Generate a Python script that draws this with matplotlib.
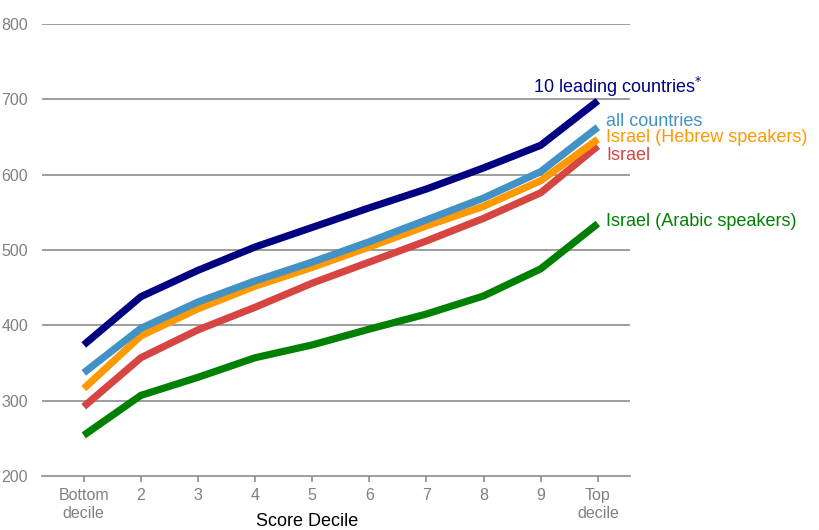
import matplotlib
matplotlib.use("Agg")
import matplotlib.pyplot as plt
from matplotlib import font_manager

# Dados
deciles = [1, 2, 3, 4, 5, 6, 7, 8, 9, 10]
tick_labels = ["Bottom\ndecile", "2", "3", "4", "5", "6", "7", "8", "9", "Top\ndecile"]

leading_10 = [374, 438, 473, 504, 530, 556, 581, 609, 639, 698]
all_countries = [337, 396, 431, 459, 484, 511, 540, 569, 604, 663]
israel_hebrew = [316, 386, 422, 452, 477, 504, 532, 558, 592, 647]
israel = [292, 357, 394, 424, 456, 484, 512, 542, 576, 638]
israel_arabic = [254, 307, 331, 357, 374, 395, 415, 439, 475, 535]

series = [
    ("10 leading countries", leading_10, "#000080"),
    ("all countries", all_countries, "#4292c6"),
    ("Israel (Hebrew speakers)", israel_hebrew, "#ff9900"),
    ("Israel", israel, "#d64541"),
    ("Israel (Arabic speakers)", israel_arabic, "#008000"),
]

names = {f.name for f in font_manager.fontManager.ttflist}
tick_font = "Liberation Sans Narrow" if "Liberation Sans Narrow" in names else "Liberation Sans"
plt.rcParams["font.family"] = ["Liberation Sans", "DejaVu Sans"]

fig = plt.figure(figsize=(8.19, 5.30), dpi=100)
ax = fig.add_axes([0.051, 0.1019, 0.718, 0.8528])

for y in [300, 400, 500, 600, 700, 800]:
    ax.axhline(y, color="#8c8c8c", linewidth=1.2, zorder=1)

# ordem de desenho: verde embaixo, azul escuro em cima
for name, vals, color in reversed(series):
    ax.plot(deciles, vals, color=color, linewidth=5.2, solid_capstyle="butt",
            solid_joinstyle="miter", zorder=3)

ax.set_ylim(200, 800)
ax.set_xlim(0.265, 10.56)
ax.set_yticks([200, 300, 400, 500, 600, 700, 800])
ax.set_xticks(deciles)
ax.set_xticklabels(tick_labels, family=[tick_font, "DejaVu Sans"], fontsize=11.5,
                   color="#808080", linespacing=1.25)
for lab in ax.get_yticklabels():
    lab.set_family([tick_font, "DejaVu Sans"])
ax.tick_params(axis="y", length=0, pad=10, labelsize=11.5, labelcolor="#808080")
ax.tick_params(axis="x", length=4, width=1.2, color="#8c8c8c", pad=5)

for s in ["top", "right", "left"]:
    ax.spines[s].set_visible(False)
ax.spines["bottom"].set_color("#8c8c8c")
ax.spines["bottom"].set_linewidth(1.2)

# rótulos das séries
fs = 13
fig.text(533 / 819, 1 - 87 / 530, "10 leading countries$^{*}$", color="#000080",
         fontsize=fs, va="center", ha="left")
fig.text(606 / 819, 1 - 121 / 530, "all countries", color="#4292c6",
         fontsize=fs, va="center", ha="left")
fig.text(606 / 819, 1 - 137 / 530, "Israel (Hebrew speakers)", color="#ff9900",
         fontsize=fs, va="center", ha="left")
fig.text(606 / 819, 1 - 156 / 530, "Israel", color="#d64541",
         fontsize=fs, va="center", ha="left")
fig.text(606 / 819, 1 - 221 / 530, "Israel (Arabic speakers)", color="#008000",
         fontsize=fs, va="center", ha="left")

fig.text(307 / 819, 1 - 521 / 530, "Score Decile", color="black",
         fontsize=13, va="center", ha="center")

fig.savefig("out.png", dpi=100)
